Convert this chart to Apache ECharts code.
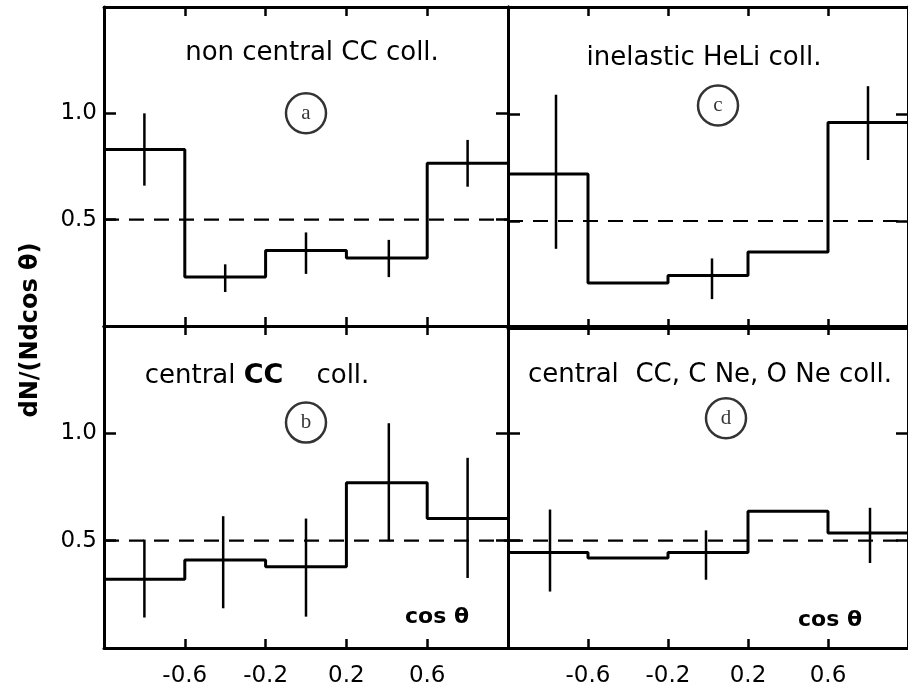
<!DOCTYPE html>
<html>
<head>
<meta charset="utf-8">
<script src="https://cdn.jsdelivr.net/npm/echarts@6/dist/echarts.min.js"></script>
<style>html,body{margin:0;padding:0;background:#fff}#c{width:908px;height:692px}</style>
</head>
<body>
<div id="c"></div>
<script>
// ---- data ----
const binEdges = [-1, -0.6, -0.2, 0.2, 0.6, 1];
const xTicks = [-0.6, -0.2, 0.2, 0.6];
const yTicks = [0.5, 1.0];
const refLevel = 0.5;

// panel a: non central CC coll.
const valuesA = [0.83, 0.23, 0.355, 0.32, 0.765];
const errXA = [-0.8, -0.4, 0.0, 0.41, 0.8];
const errLoA = [0.66, 0.16, 0.245, 0.23, 0.655];
const errHiA = [1.0, 0.29, 0.44, 0.405, 0.875];

// panel c: inelastic HeLi coll.
const valuesC = [0.72, 0.21, 0.245, 0.355, 0.96];
const errXC = [-0.76, 0.02, 0.8];
const errLoC = [0.37, 0.135, 0.785];
const errHiC = [1.09, 0.325, 1.13];

// panel b: central CC coll.
const valuesB = [0.32, 0.41, 0.378, 0.77, 0.603];
const errXB = [-0.8, -0.41, 0.0, 0.41, 0.8];
const errLoB = [0.142, 0.185, 0.146, 0.497, 0.326];
const errHiB = [0.505, 0.614, 0.603, 1.047, 0.886];

// panel d: central CC, C Ne, O Ne coll.
const valuesD = [0.445, 0.419, 0.445, 0.637, 0.536];
const errXD = [-0.79, -0.01, 0.81];
const errLoD = [0.263, 0.318, 0.396];
const errHiD = [0.645, 0.548, 0.653];

// circled panel letters (data coords)
const letters = ['a', 'c', 'b', 'd'];
const letterPos = [[0.0, 1.0], [0.05, 1.04], [0.0, 1.05], [0.09, 1.07]];

// ---- build ----
const panels = [
  {vals: valuesA, ex: errXA, lo: errLoA, hi: errHiA},
  {vals: valuesC, ex: errXC, lo: errLoC, hi: errHiC},
  {vals: valuesB, ex: errXB, lo: errLoB, hi: errHiB},
  {vals: valuesD, ex: errXD, lo: errLoD, hi: errHiD}
];
const grids = [
  {left: 104, top: 7, width: 404, height: 319},
  {left: 508, top: 7, width: 405, height: 321},
  {left: 104, top: 326, width: 404, height: 322},
  {left: 508, top: 326, width: 405, height: 322}
];
const FONT = 'DejaVu Sans';
const xAxis = [], yAxis = [], series = [];
grids.forEach((g, gi) => {
  const bottomRow = gi >= 2, leftCol = (gi % 2 === 0);
  const lineSt = {color: '#000', width: 3};
  const tickSt = {color: '#000', width: 2.5};
  ['bottom', 'top'].forEach(pos => {
    xAxis.push({
      gridIndex: gi, type: 'value', min: -1, max: 1, position: pos,
      axisLine: {show: true, onZero: false, lineStyle: lineSt},
      axisTick: {show: true, inside: true, length: 9, customValues: xTicks, lineStyle: tickSt},
      axisLabel: {show: pos === 'bottom' && bottomRow, customValues: xTicks, margin: 17,
        formatter: v => (+v).toFixed(1), fontSize: 23, color: '#000', fontFamily: FONT},
      splitLine: {show: false}
    });
  });
  ['left', 'right'].forEach(pos => {
    yAxis.push({
      gridIndex: gi, type: 'value', min: 0, max: 1.5, position: pos,
      axisLine: {show: true, onZero: false, lineStyle: lineSt},
      axisTick: {show: true, inside: true, length: 12, customValues: yTicks, lineStyle: tickSt},
      axisLabel: {show: pos === 'left' && leftCol, customValues: yTicks, margin: 7,
        formatter: v => (+v).toFixed(1), fontSize: 23, color: '#000', fontFamily: FONT},
      splitLine: {show: false}
    });
  });
  const p = panels[gi];
  const stepData = binEdges.map((e, i) => [e, p.vals[Math.min(i, p.vals.length - 1)]]);
  series.push({
    type: 'line', step: 'end', xAxisIndex: gi * 2, yAxisIndex: gi * 2,
    data: stepData, symbol: 'none', silent: true,
    lineStyle: {color: '#000', width: 3}
  });
  series.push({
    type: 'line', xAxisIndex: gi * 2, yAxisIndex: gi * 2,
    data: [[binEdges[0], refLevel], [binEdges[binEdges.length - 1], refLevel]],
    symbol: 'none', silent: true,
    lineStyle: {color: '#000', width: 2.2, type: [15, 10]}
  });
  series.push({
    type: 'custom', xAxisIndex: gi * 2, yAxisIndex: gi * 2,
    data: p.ex.map((x, i) => [x, p.lo[i], p.hi[i]]),
    encode: {x: 0, y: [1, 2]},
    renderItem: (params, api) => {
      const a = api.coord([api.value(0), api.value(1)]);
      const b = api.coord([api.value(0), api.value(2)]);
      return {type: 'line', shape: {x1: a[0], y1: a[1], x2: b[0], y2: b[1]},
        style: {stroke: '#000', lineWidth: 2.5}};
    }
  });
  series.push({
    type: 'scatter', xAxisIndex: gi * 2, yAxisIndex: gi * 2,
    data: [letterPos[gi]], symbol: 'circle', symbolSize: 40, silent: true,
    itemStyle: {color: '#fff', borderColor: '#000', borderWidth: 2.5},
    label: {show: true, position: 'inside', formatter: letters[gi],
      fontFamily: 'Liberation Serif', fontSize: 21, color: '#000'}
  });
});

const txt = (x, y, text, extra) => Object.assign({
  type: 'text', style: Object.assign({x: x, y: y, text: text, fill: '#000',
    font: '26px "DejaVu Sans"', align: 'center', verticalAlign: 'middle'}, extra || {})
});

const chart = echarts.init(document.getElementById('c'), null, {renderer: 'canvas'});
chart.setOption({
  animation: false,
  backgroundColor: '#fff',
  grid: grids.map(g => Object.assign({containLabel: false, show: false}, g)),
  xAxis: xAxis, yAxis: yAxis, series: series,
  graphic: [
    txt(312, 53, 'non central CC coll.'),
    txt(704, 58, 'inelastic HeLi coll.'),
    {type: 'text', style: {x: 257, y: 376, fill: '#000', align: 'center', verticalAlign: 'middle',
      text: '{n|central }{b|CC}{n|    coll.}',
      rich: {n: {fontFamily: FONT, fontSize: 26}, b: {fontFamily: FONT, fontSize: 27, fontWeight: 'bold'}}}},
    txt(710, 375, 'central  CC, C Ne, O Ne coll.'),
    txt(437, 617, 'cos θ', {font: 'bold 22px "DejaVu Sans"'}),
    txt(830, 620, 'cos θ', {font: 'bold 22px "DejaVu Sans"'}),
    {type: 'text', rotation: Math.PI / 2, x: 31, y: 330,
      style: {text: 'dN/(Ndcos θ)', fill: '#000', font: 'bold 24px "DejaVu Sans"',
        align: 'center', verticalAlign: 'middle'}}
  ]
});
</script>
</body>
</html>
